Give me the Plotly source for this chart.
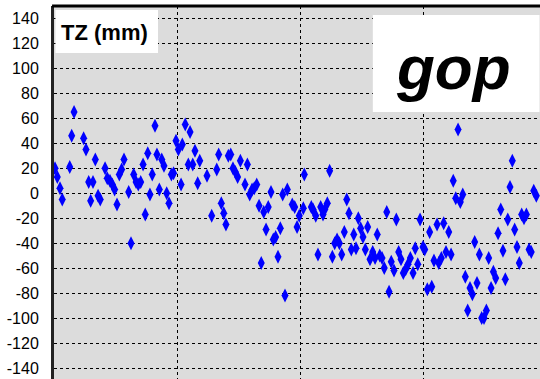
import plotly.graph_objects as go

# time axis in grid units (one vertical gridline per unit)
t_vals = [
    0.008, 0.027, 0.049, 0.067, 0.128, 0.144, 0.163, 0.241, 0.260, 0.282, 0.298, 0.317, 0.336, 0.358, 0.376,
    0.415, 0.433, 0.455, 0.474, 0.493, 0.512, 0.531, 0.550, 0.569, 0.607, 0.626, 0.648, 0.667, 0.685, 0.705,
    0.724, 0.742, 0.762, 0.780, 0.799, 0.821, 0.837, 0.856, 0.876, 0.894, 0.916, 0.935, 0.954, 0.972, 0.992,
    1.011, 1.033, 1.043, 1.067, 1.092, 1.106, 1.128, 1.146, 1.168, 1.185, 1.244, 1.282, 1.323, 1.339, 1.360,
    1.380, 1.398, 1.417, 1.437, 1.455, 1.474, 1.493, 1.515, 1.553, 1.572, 1.591, 1.610, 1.628, 1.648, 1.667,
    1.685, 1.705, 1.724, 1.742, 1.764, 1.783, 1.802, 1.821, 1.840, 1.859, 1.878, 1.897, 1.937, 1.957, 1.976,
    1.994, 2.027, 2.035, 2.092, 2.106, 2.128, 2.146, 2.168, 2.187, 2.201, 2.222, 2.241, 2.263, 2.282, 2.301,
    2.320, 2.339, 2.360, 2.380, 2.398, 2.417, 2.437, 2.455, 2.474, 2.493, 2.512, 2.531, 2.550, 2.569, 2.591,
    2.610, 2.628, 2.648, 2.667, 2.685, 2.705, 2.724, 2.742, 2.764, 2.783, 2.802, 2.821, 2.840, 2.859, 2.878,
    2.897, 2.919, 2.937, 2.957, 2.976, 3.000, 3.014, 3.035, 3.054, 3.071, 3.089, 3.114, 3.128, 3.149, 3.168,
    3.187, 3.209, 3.228, 3.246, 3.266, 3.285, 3.303, 3.323, 3.344, 3.363, 3.382, 3.401, 3.420, 3.439, 3.458,
    3.477, 3.496, 3.515, 3.534, 3.553, 3.572, 3.591, 3.610, 3.632, 3.650, 3.669, 3.689, 3.707, 3.726, 3.745,
    3.764, 3.783, 3.802, 3.821, 3.840, 3.862, 3.880, 3.900, 3.921,
]

tz_mm = [
    20, 13, 4, -5, 21, 46, 65, 44, 35, 9, -6, 9, 27, -2, -5,
    20, 12, 10, 7, 3, -9, 15, 19, 27, 1, -40, 15, 9, 7, 9,
    23, -17, 32, -1, 15, 54, 31, 3, 27, 22, 0, -8, 15, 16, 42,
    35, 7, 39, 55, 23, 49, 23, 34, 8, 26, 14, -18, 19, 31, -8,
    -16, -25, 30, 31, 20, 17, 13, 26, 7, 23, -1, 3, 4, 7, -10,
    -56, -15, -29, -11, 1, -37, -35, -51, -28, -1, -82, 3, -9, -11, -27,
    -18, -12, 15, -11, -13, -18, -49, -11, -17, -13, -8, 18, -51, -40, -37,
    -40, -49, -31, -5, -16, -45, -33, -44, -20, -28, -35, -45, -27, -53, -47,
    -52, -33, -50, -52, -60, -15, -79, -55, -62, -21, -47, -53, -64, -61, -57,
    -52, -64, -44, -57, -21, -43, -45, -77, -31, -75, -54, -25, -56, -52, -24,
    -47, -31, -49, 10, -4, 51, -7, -1, -67, -94, -76, -81, -39, -72, -49,
    -100, -100, -94, -52, -76, -63, -68, -32, -13, -46, -69, -21, 5, 26, -29,
    -43, -56, -17, -20, -17, -45, -47, 2, -2,
]

y_ticks = [140, 120, 100, 80, 60, 40, 20, 0, -20, -40, -60, -80, -100, -120, -140]
y_tick_labels = ["140", "120", "100", "80", "60", "40", "20", "0", "-20", "-40", "-60",
                 "-80", "-100", "-120", "-140"]

panel_title = "TZ (mm)"
station = "gop"

SANS = "Liberation Sans Narrow, Arial Narrow, Liberation Sans, Arial, sans-serif"

fig = go.Figure()
fig.add_trace(go.Scatter(
    x=t_vals, y=tz_mm, mode="markers",
    marker=dict(symbol="diamond-tall", size=10, color="#0000ff", line=dict(width=0)),
    hoverinfo="skip", showlegend=False,
))

fig.update_layout(
    width=540, height=379,
    margin=dict(l=54, r=0, t=6, b=0),
    paper_bgcolor="white",
    plot_bgcolor="#dcdcdc",
    xaxis=dict(
        range=[0, 3.951], dtick=1, tick0=0, automargin=False,
        showgrid=True, gridcolor="#000000", griddash="dot", gridwidth=1,
        showticklabels=False, ticks="", zeroline=False, showline=False,
    ),
    yaxis=dict(
        range=[-148.8, 149.9], automargin=False,
        tickvals=y_ticks, ticktext=y_tick_labels,
        showgrid=True, gridcolor="#000000", griddash="dot", gridwidth=1,
        zeroline=False, ticks="", ticklabelstandoff=9,
        showline=True, linecolor="#222222", linewidth=3,
        tickfont=dict(family=SANS, size=16, color="black"),
    ),
    shapes=[
        dict(type="line", xref="paper", yref="paper", x0=-0.004, x1=1, y0=1, y1=1,
             line=dict(color="black", width=3), layer="above"),
        dict(type="rect", xref="paper", yref="paper", x0=0.003, x1=0.214, y0=0.874, y1=0.989,
             fillcolor="white", line=dict(width=0), layer="above"),
        dict(type="rect", xref="paper", yref="paper", x0=0.656, x1=0.999, y0=0.716, y1=0.976,
             fillcolor="white", line=dict(width=0), layer="above"),
    ],
    annotations=[
        dict(text="<b>" + panel_title + "</b>", xref="paper", yref="paper", x=0.01, y=0.930,
             xanchor="left", yanchor="middle", showarrow=False,
             font=dict(family=SANS, size=22, color="black")),
        dict(text="<b><i>" + station + "</i></b>", xref="paper", yref="paper", x=0.823, y=0.834,
             xanchor="center", yanchor="middle", showarrow=False,
             font=dict(family="Liberation Sans, Arial, sans-serif", size=62, color="black")),
    ],
)

fig.write_html("out.html", config={"displayModeBar": False},
               post_script="document.body.style.margin='0px';")
